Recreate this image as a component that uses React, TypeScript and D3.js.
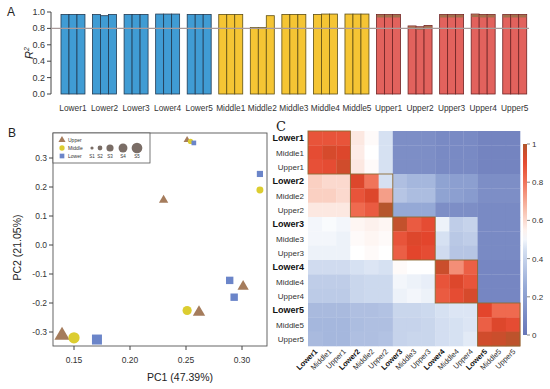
import React from 'react';
import * as d3 from 'd3';

// ---------- Panel A: R² bars ----------
const groups = [
  'Lower1', 'Lower2', 'Lower3', 'Lower4', 'Lower5',
  'Middle1', 'Middle2', 'Middle3', 'Middle4', 'Middle5',
  'Upper1', 'Upper2', 'Upper3', 'Upper4', 'Upper5',
];
const r2Values = [
  [0.97, 0.97, 0.97], [0.97, 0.955, 0.97], [0.97, 0.97, 0.97], [0.975, 0.975, 0.975], [0.97, 0.97, 0.97],
  [0.97, 0.97, 0.97], [0.81, 0.81, 0.955], [0.97, 0.97, 0.97], [0.97, 0.975, 0.975], [0.975, 0.975, 0.975],
  [0.97, 0.97, 0.97], [0.83, 0.82, 0.835], [0.97, 0.97, 0.97], [0.975, 0.97, 0.97], [0.97, 0.97, 0.97],
];
const r2Threshold = 0.8;
const r2Ticks = [0, 0.2, 0.4, 0.6, 0.8, 1.0];

// ---------- Panel B: PCA ----------
const pcaPoints = [
  { sample: 'S1', level: 'Upper', pc1: 0.251, pc2: 0.362 },
  { sample: 'S1', level: 'Middle', pc1: 0.254, pc2: 0.357 },
  { sample: 'S1', level: 'Lower', pc1: 0.257, pc2: 0.352 },
  { sample: 'S2', level: 'Upper', pc1: 0.230, pc2: 0.155 },
  { sample: 'S2', level: 'Middle', pc1: 0.316, pc2: 0.190 },
  { sample: 'S2', level: 'Lower', pc1: 0.316, pc2: 0.245 },
  { sample: 'S3', level: 'Lower', pc1: 0.289, pc2: -0.122 },
  { sample: 'S3', level: 'Upper', pc1: 0.301, pc2: -0.143 },
  { sample: 'S3', level: 'Lower', pc1: 0.293, pc2: -0.180 },
  { sample: 'S4', level: 'Middle', pc1: 0.251, pc2: -0.226 },
  { sample: 'S4', level: 'Upper', pc1: 0.2616, pc2: -0.232 },
  { sample: 'S5', level: 'Upper', pc1: 0.1393, pc2: -0.312 },
  { sample: 'S5', level: 'Middle', pc1: 0.150, pc2: -0.320 },
  { sample: 'S5', level: 'Lower', pc1: 0.1705, pc2: -0.326 },
];
const samples = ['S1', 'S2', 'S3', 'S4', 'S5'];
const levels = ['Upper', 'Middle', 'Lower'];
const pc1Ticks = [0.15, 0.2, 0.25, 0.3];
const pc2Ticks = [-0.3, -0.2, -0.1, 0.0, 0.1, 0.2, 0.3];

// ---------- Panel C: correlation heatmap ----------
const heatLabels = [
  'Lower1', 'Middle1', 'Upper1', 'Lower2', 'Middle2', 'Upper2', 'Lower3', 'Middle3', 'Upper3',
  'Lower4', 'Middle4', 'Upper4', 'Lower5', 'Middle5', 'Upper5',
];
const corr = [
  [0.88, 0.88, 0.88, 0.57, 0.53, 0.45, 0.12, 0.12, 0.12, 0.1, 0.1, 0.1, 0.07, 0.07, 0.07],
  [0.9, 0.94, 0.93, 0.56, 0.52, 0.45, 0.12, 0.12, 0.12, 0.1, 0.1, 0.1, 0.07, 0.07, 0.07],
  [0.89, 0.9, 0.95, 0.57, 0.53, 0.45, 0.12, 0.12, 0.12, 0.1, 0.1, 0.1, 0.07, 0.07, 0.07],
  [0.62, 0.6, 0.6, 0.93, 0.8, 0.45, 0.33, 0.3, 0.3, 0.22, 0.2, 0.2, 0.12, 0.12, 0.12],
  [0.62, 0.62, 0.6, 0.88, 0.93, 0.72, 0.35, 0.32, 0.32, 0.22, 0.2, 0.18, 0.12, 0.12, 0.12],
  [0.57, 0.57, 0.57, 0.82, 0.86, 0.99, 0.25, 0.25, 0.25, 0.12, 0.12, 0.12, 0.1, 0.1, 0.1],
  [0.5, 0.51, 0.5, 0.54, 0.55, 0.54, 0.97, 0.86, 0.9, 0.49, 0.38, 0.4, 0.1, 0.1, 0.1],
  [0.5, 0.5, 0.49, 0.53, 0.54, 0.53, 0.88, 0.93, 0.92, 0.45, 0.36, 0.38, 0.1, 0.1, 0.1],
  [0.49, 0.49, 0.49, 0.52, 0.53, 0.52, 0.85, 0.92, 0.9, 0.43, 0.35, 0.35, 0.1, 0.1, 0.1],
  [0.43, 0.43, 0.43, 0.45, 0.46, 0.45, 0.53, 0.52, 0.52, 0.96, 0.75, 0.85, 0.08, 0.08, 0.08],
  [0.38, 0.38, 0.38, 0.41, 0.42, 0.42, 0.5, 0.49, 0.48, 0.88, 0.93, 0.88, 0.08, 0.08, 0.08],
  [0.37, 0.37, 0.37, 0.41, 0.42, 0.42, 0.49, 0.5, 0.49, 0.86, 0.9, 0.94, 0.08, 0.08, 0.08],
  [0.31, 0.31, 0.31, 0.33, 0.33, 0.34, 0.41, 0.41, 0.42, 0.45, 0.46, 0.46, 0.92, 0.82, 0.82],
  [0.3, 0.3, 0.3, 0.32, 0.33, 0.33, 0.4, 0.4, 0.41, 0.44, 0.45, 0.46, 0.85, 0.93, 0.9],
  [0.31, 0.3, 0.3, 0.33, 0.33, 0.34, 0.4, 0.41, 0.41, 0.44, 0.45, 0.47, 0.95, 0.96, 0.98],
];
const colorTicks = [0, 0.2, 0.4, 0.6, 0.8, 1];

const FONT = "'Liberation Sans', Arial, sans-serif";

function PanelA() {
  const x = d3.scaleBand<string>().domain(groups).range([57.2, 530.5]).paddingInner(0.24).paddingOuter(0.12);
  const sub = d3.scaleBand<number>().domain([0, 1, 2]).range([0, x.bandwidth()]);
  const y = d3.scaleLinear().domain([0, 1]).range([94, 12]);
  const fillOf = (g: string) => (g.startsWith('Lower') ? '#409cd4' : g.startsWith('Middle') ? '#f5c534' : '#e2625d');
  const strokeOf = (g: string) => (g.startsWith('Lower') ? '#223a52' : g.startsWith('Middle') ? '#5e4e14' : '#6e2424');
  return (
    <g>
      <text x={7} y={16} fontFamily={FONT} fontSize={12} fill="#222">A</text>
      {r2Ticks.map(t => (
        <g key={t}>
          <line x1={47} x2={51} y1={y(t)} y2={y(t)} stroke="#444" />
          <text x={45} y={y(t) + 3} textAnchor="end" fontFamily={FONT} fontSize={9} fill="#333">{t.toFixed(1)}</text>
        </g>
      ))}
      <line x1={51} x2={51} y1={y(0)} y2={y(1)} stroke="#444" />
      <text transform={`translate(33,${y(0.5)}) rotate(-90)`} textAnchor="middle" fontFamily={FONT} fontSize={11} fontStyle="italic" fill="#222">
        R<tspan dy={-4} fontSize={7}>2</tspan>
      </text>
      {groups.map((g, gi) => (
        <g key={g}>
          {r2Values[gi].map((v, bi) => {
            const bx = (x(g) as number) + (sub(bi) as number);
            return (
              <g key={bi}>
                <rect x={bx} y={y(v)} width={sub.bandwidth()} height={y(0) - y(v)} fill={fillOf(g)} stroke={strokeOf(g)} strokeWidth={0.8} />
                {g.startsWith('Upper') && (
                  <rect x={bx + 0.4} y={y(v) + 0.4} width={sub.bandwidth() - 0.8} height={2.6} fill="#a0704c" />
                )}
              </g>
            );
          })}
          <text x={(x(g) as number) + x.bandwidth() / 2} y={111} textAnchor="middle" fontFamily={FONT} fontSize={8.3} fill="#333">{g}</text>
        </g>
      ))}
      <line x1={51} x2={529} y1={y(r2Threshold)} y2={y(r2Threshold)} stroke="#a89a9a" strokeWidth={1.2} />
    </g>
  );
}

function PanelB() {
  const x = d3.scaleLinear().domain([0.15, 0.3]).range([74, 242]);
  const y = d3.scaleLinear().domain([0, 0.3]).range([245, 158]);
  const left = 53, right = 267, top = 133, bottom = 346;
  const sizeOf = d3.scaleOrdinal<string, number>().domain(samples).range([22, 38, 55, 66, 100]);
  const shapeOf = d3.scaleOrdinal<string, d3.SymbolType>().domain(levels).range([d3.symbolTriangle, d3.symbolCircle, d3.symbolSquare]);
  const colorOf = d3.scaleOrdinal<string, string>().domain(levels).range(['#a57c5c', '#dccd30', '#6b85c9']);
  const sym = (lv: string, s: number) => d3.symbol().type(shapeOf(lv)).size(s)() as string;
  const legendSizes = [8, 18, 40, 62, 90];
  return (
    <g>
      <text x={8} y={137} fontFamily={FONT} fontSize={12} fill="#222">B</text>
      <rect x={left} y={top} width={right - left} height={bottom - top} fill="none" stroke="#555" strokeWidth={0.9} />
      {pc2Ticks.map(t => (
        <g key={t}>
          <line x1={left - 4} x2={left} y1={y(t)} y2={y(t)} stroke="#444" />
          <text x={47} y={y(t) + 3} textAnchor="end" fontFamily={FONT} fontSize={8.5} fill="#333">{t.toFixed(1)}</text>
        </g>
      ))}
      {pc1Ticks.map(t => (
        <g key={t}>
          <line x1={x(t)} x2={x(t)} y1={bottom} y2={bottom + 4} stroke="#444" />
          <text x={x(t)} y={bottom + 17} textAnchor="middle" fontFamily={FONT} fontSize={8.5} fill="#333">{t.toFixed(2)}</text>
        </g>
      ))}
      <text transform={`translate(21,${(top + bottom) / 2 + 8}) rotate(-90)`} textAnchor="middle" fontFamily={FONT} fontSize={10.5} fill="#222">PC2 (21.05%)</text>
      <text x={180} y={381} textAnchor="middle" fontFamily={FONT} fontSize={10.5} fill="#222">PC1 (47.39%)</text>
      {pcaPoints.map((p, i) => (
        <path key={i} d={sym(p.level, sizeOf(p.sample))} transform={`translate(${x(p.pc1)},${y(p.pc2)})`} fill={colorOf(p.level)} />
      ))}
      {/* legend */}
      <rect x={left} y={top} width={97} height={30} fill="#fff" stroke="#555" strokeWidth={0.8} />
      {levels.map((lv, i) => (
        <g key={lv}>
          <path d={sym(lv, 22)} transform={`translate(62,${140 + i * 8})`} fill={colorOf(lv)} />
          <text x={68} y={142 + i * 8} fontFamily={FONT} fontSize={5} fill="#333">{lv}</text>
        </g>
      ))}
      {samples.map((s, i) => {
        const cx = [92, 100, 110, 123, 137][i];
        return (
          <g key={s}>
            <path d={d3.symbol().type(d3.symbolCircle).size(legendSizes[i])() as string} transform={`translate(${cx},148)`} fill="#7a6d66" />
            <text x={cx} y={158} textAnchor="middle" fontFamily={FONT} fontSize={4.5} fill="#333">{s}</text>
          </g>
        );
      })}
    </g>
  );
}

function PanelC() {
  const x = d3.scaleBand<string>().domain(heatLabels).range([308, 520]);
  const y = d3.scaleBand<string>().domain(heatLabels).range([131, 346]);
  const color = d3.scaleLinear<string>()
    .domain([0, 0.25, 0.45, 0.52, 0.65, 0.82, 0.92, 1])
    .range(['#6776b8', '#95a9d6', '#d6e1f2', '#ffffff', '#f8c2b0', '#ef6a4f', '#e3452c', '#b0582c'])
    .clamp(true);
  const cy = d3.scaleLinear().domain([0, 1]).range([335, 144]);
  const gradStops = d3.range(0, 1.001, 0.05);
  return (
    <g>
      <defs>
        <linearGradient id="cbar" x1="0" y1="1" x2="0" y2="0">
          {gradStops.map(s => <stop key={s} offset={s} stopColor={color(s)} />)}
        </linearGradient>
      </defs>
      <text x={276} y={131} fontFamily="'DejaVu Serif', serif" fontSize={13} fill="#222">C</text>
      {corr.map((row, ri) => row.map((v, ci) => (
        <rect key={`${ri}-${ci}`} x={x(heatLabels[ci])} y={y(heatLabels[ri])} width={x.bandwidth() + 0.3} height={y.bandwidth() + 0.3} fill={color(v)} />
      )))}
      {[0, 3, 6, 9, 12].map(k => (
        <rect key={k} x={x(heatLabels[k])} y={y(heatLabels[k])} width={x.bandwidth() * 3} height={y.bandwidth() * 3} fill="none" stroke="#8c6a34" strokeWidth={0.9} />
      ))}
      {heatLabels.map(l => {
        const bold = l.startsWith('Lower');
        return (
          <text key={l} x={304} y={(y(l) as number) + y.bandwidth() / 2 + 3} textAnchor="end" fontFamily={FONT}
            fontSize={bold ? 9 : 8} fontWeight={bold ? 'bold' : 'normal'} fill={bold ? '#111' : '#333'}>{l}</text>
        );
      })}
      {heatLabels.map(l => {
        const bold = l.startsWith('Lower');
        const cx = (x(l) as number) + x.bandwidth() / 2 + 3;
        return (
          <text key={l} transform={`translate(${cx},352) rotate(-45)`} textAnchor="end" fontFamily={FONT}
            fontSize={7.5} fontWeight={bold ? 'bold' : 'normal'} fill={bold ? '#111' : '#333'}>{l}</text>
        );
      })}
      <rect x={523} y={cy(1)} width={4} height={cy(0) - cy(1)} fill="url(#cbar)" />
      {colorTicks.map(t => (
        <g key={t}>
          <line x1={527} x2={530} y1={cy(t)} y2={cy(t)} stroke="#555" strokeWidth={0.7} />
          <text x={532} y={cy(t) + 3} fontFamily={FONT} fontSize={8} fill="#333">{t === 0 || t === 1 ? String(t) : t.toFixed(1)}</text>
        </g>
      ))}
    </g>
  );
}

export default function App() {
  return (
    <svg width={550} height={389} style={{ position: 'absolute', left: 0, top: 0, background: '#fff' }}>
      <PanelA />
      <PanelB />
      <PanelC />
    </svg>
  );
}
